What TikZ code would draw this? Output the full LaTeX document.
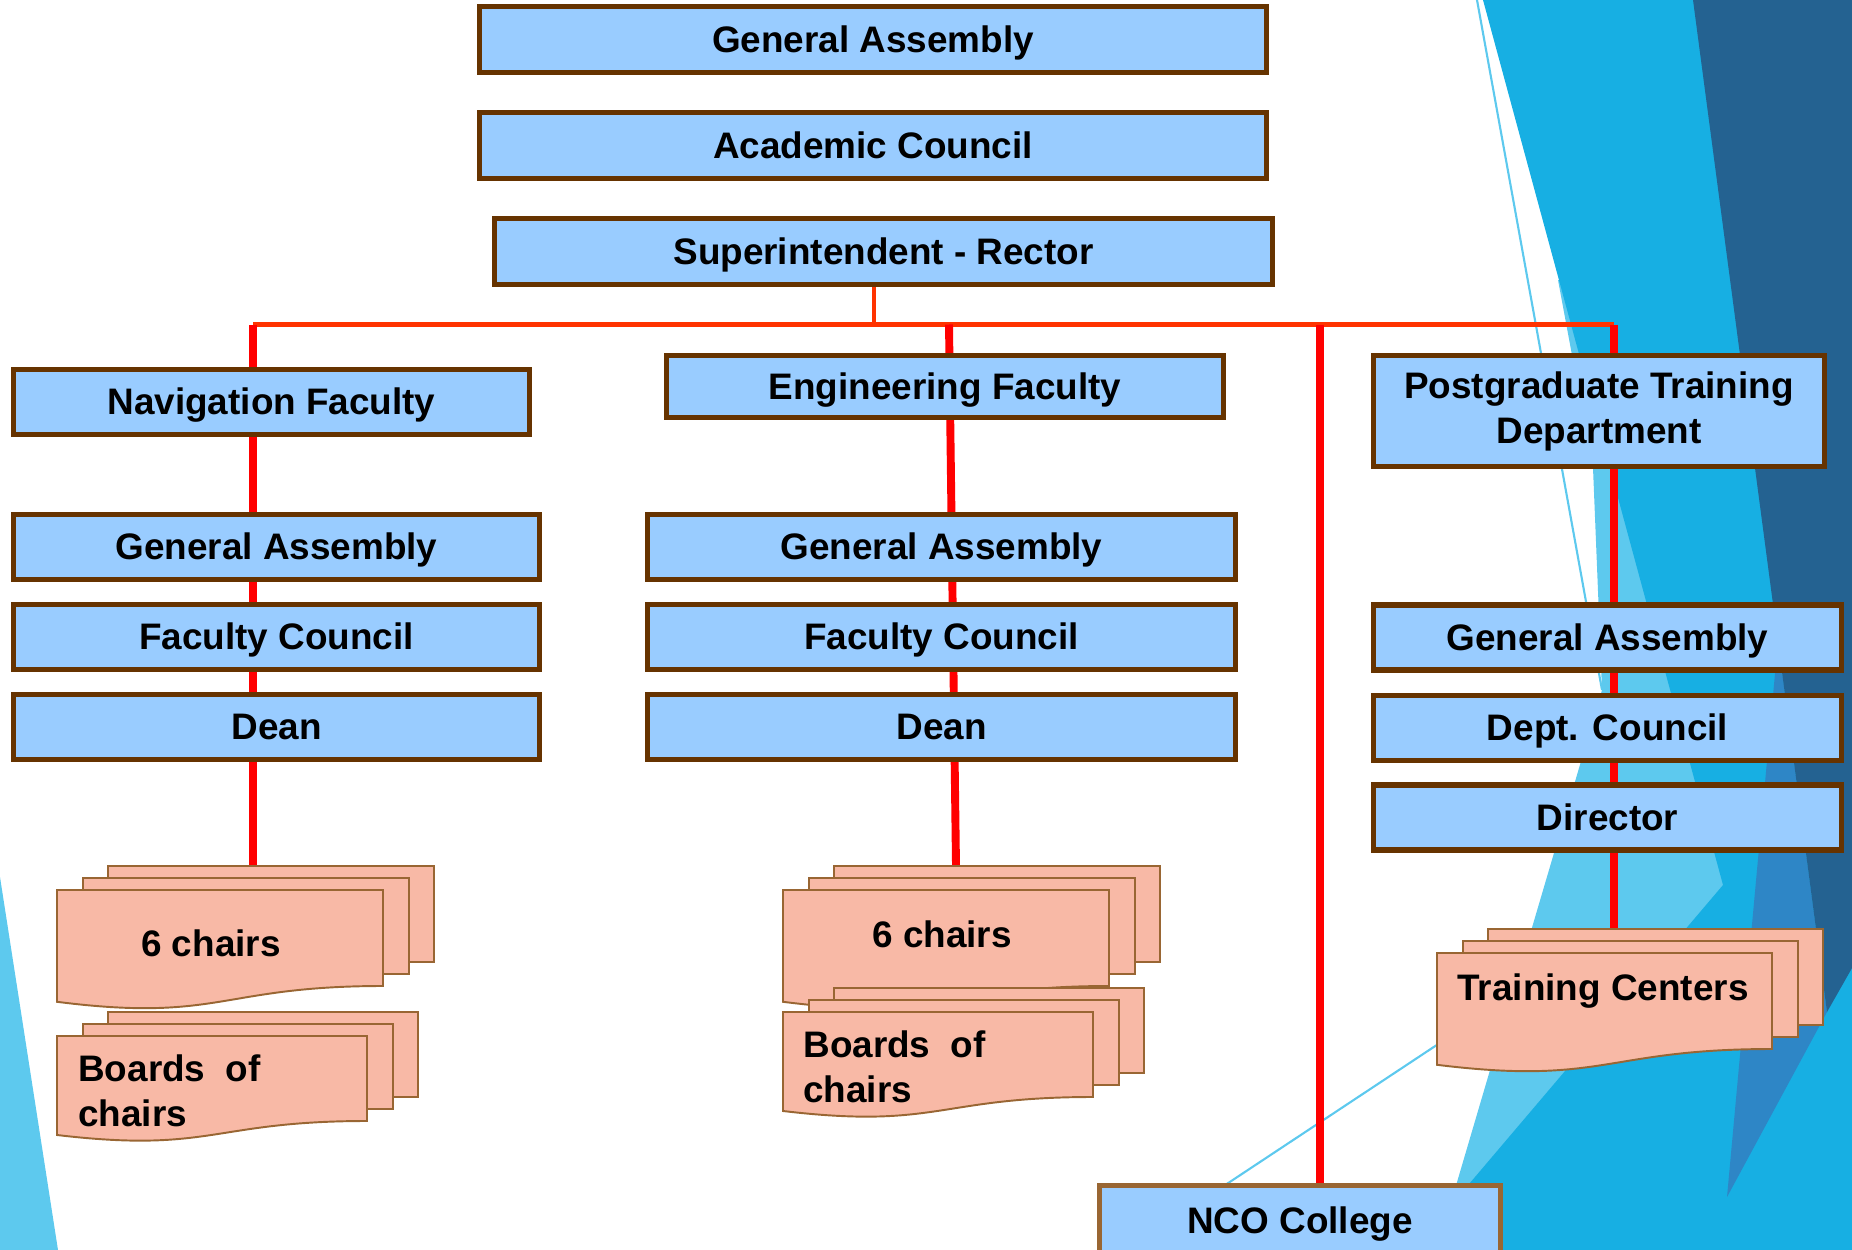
\documentclass[tikz,border=0pt]{standalone}
\usepackage{fontspec}
\setmainfont{Liberation Sans}
\usepackage{xcolor}
\usetikzlibrary{positioning}

\definecolor{boxblue}{HTML}{99CCFF}
\definecolor{boxbrown}{HTML}{663300}
\definecolor{docpink}{HTML}{F8B9A6}
\definecolor{docbrown}{HTML}{996633}
\definecolor{busred}{HTML}{FF3300}
\definecolor{facetlight}{HTML}{5DC9EE}
\definecolor{facetmid}{HTML}{17AFE3}
\definecolor{facetsteel}{HTML}{2E86C6}
\definecolor{facetdark}{HTML}{246291}

\pgfdeclarelayer{back}
\pgfdeclarelayer{wires}
\pgfsetlayers{back,wires,main}

% three stacked pages, #1,#2 = top left of the front page, #3 = width, #4 = height
\newcommand{\docstack}[4]{%
  \pgfmathsetmacro{\dH}{#4/0.802}
  \draw[docpage] (#1+51,#2-24) rectangle ++(#3,#4);
  \draw[docpage] (#1+26,#2-12) rectangle ++(#3,#4);
  \draw[docpage] (#1,#2) -- (#1+#3,#2) -- (#1+#3,#2+#4)
    .. controls (#1+0.5*#3,#2+#4) and (#1+0.5*#3,#2+1.1075*\dH) .. (#1,#2+0.934*\dH) -- cycle;
}

\begin{document}
\begin{tikzpicture}[x=0.02cm, y=-0.02cm]
        \tikzset{unitbase/.style = {draw=boxbrown, line width=3pt, fill=boxblue, align=center, inner sep=0pt, font=\bfseries\fontsize{21}{25.6}\selectfont}}
        \tikzset{unit/.style = {unitbase, text height=19pt, text depth=4.45pt}}
        \tikzset{doctext/.style = {inner sep=0pt, font=\bfseries\fontsize{21}{25.6}\selectfont}}
        \tikzset{docpage/.style = {draw=docbrown, fill=docpink, line width=1.1pt}}
        \tikzset{vwire/.style = {draw=red, line width=4.5pt}}
        \tikzset{buswire/.style = {draw=busred, line width=3pt}}
        \tikzset{stemwire/.style = {draw=busred, line width=2.2pt}}

        \useasboundingbox (0,0) rectangle (1852,1250);

        % background facets
        \begin{pgfonlayer}{back}
        \fill[facetlight] (0,877) -- (58,1250) -- (0,1250) -- cycle;
        \fill[facetlight] (1558,280) -- (1593,468) -- (1602,690) -- (1437,1250) -- (1852,1250) -- (1852,280) -- cycle;
        \fill[facetmid] (1483,0) -- (1852,0) -- (1852,1250) -- (1413,1250) -- (1723,885) -- cycle;
        \fill[facetsteel] (1778,641) -- (1827,1012) -- (1727,1197) -- cycle;
        \fill[facetdark] (1693,0) -- (1852,0) -- (1852,968) -- (1827,1012) -- cycle;
        \draw[facetlight, line width=1.2pt] (1477,0) -- (1602,690);
        \draw[facetlight, line width=1.2pt] (1127,1250) -- (1470,1023);
        \end{pgfonlayer}

        % top of the academy
        \node[unit, minimum width=15.74cm, minimum height=1.32cm] (ga) at (873,39.5) {General Assembly};
        \node[unit, minimum width=15.74cm, minimum height=1.32cm] (ac) at (873,145.5) {Academic Council};
        \node[unit, minimum width=15.56cm, minimum height=1.32cm] (rector) at (883.5,251.5) {Superintendent - Rector};

        % navigation faculty
        \node[unit, minimum width=10.32cm, minimum height=1.30cm] (navfac) at (271.5,402) {Navigation Faculty};
        \node[unit, minimum width=10.52cm, minimum height=1.30cm] (navga) at (276.5,547) {General Assembly};
        \node[unit, minimum width=10.52cm, minimum height=1.30cm] (navfc) at (276.5,637) {Faculty Council};
        \node[unit, minimum width=10.52cm, minimum height=1.30cm] (navdean) at (276.5,727) {Dean};

        % engineering faculty
        \node[unit, minimum width=11.14cm, minimum height=1.24cm] (engfac) at (945,386.5) {Engineering Faculty};
        \node[unit, minimum width=11.76cm, minimum height=1.30cm] (engga) at (941.5,547) {General Assembly};
        \node[unit, minimum width=11.76cm, minimum height=1.30cm] (engfc) at (941.5,637) {Faculty Council};
        \node[unit, minimum width=11.76cm, minimum height=1.30cm] (engdean) at (941.5,727) {Dean};

        % postgraduate department
        \node[unitbase, minimum width=9.02cm, minimum height=2.22cm] (pgdept) at (1599,411) {Postgraduate Training\\Department};
        \node[unit, minimum width=9.36cm, minimum height=1.30cm] (pgga) at (1607.5,637.5) {General Assembly};
        \node[unit, minimum width=9.36cm, minimum height=1.30cm] (pgdc) at (1607.5,728) {Dept. Council};
        \node[unit, minimum width=9.36cm, minimum height=1.30cm] (pgdir) at (1607.5,817.5) {Director};

        % nco college
        \node[unit, draw=docbrown, minimum width=8.02cm, minimum height=1.40cm] (nco) at (1300,1220.5) {NCO College};

        % chairs and centers
        \docstack{57}{890}{326}{96}
        \docstack{57}{1036}{310}{85}
        \docstack{783}{890}{326}{96}
        \docstack{783}{1012}{310}{85}
        \docstack{1437}{953}{335}{96}
        \node[doctext] (navchairs) at (211,943) {6 chairs};
        \node[doctext, anchor=north west, align=left] (navboards) at (78,1054) {Boards\ \ of\\chairs};
        \node[doctext] (engchairs) at (942,934) {6 chairs};
        \node[doctext, anchor=north west, align=left] (engboards) at (803,1030) {Boards\ \ of\\chairs};
        \node[doctext] (tcenters) at (1603,991) {Training Centers};

        % red lines
        \coordinate (busnav) at (253,324.5);
        \coordinate (busstem) at (874,324.5);
        \coordinate (buseng) at (949,324.5);
        \coordinate (busnco) at (1320,324.5);
        \coordinate (buspg) at (1614,324.5);
        \coordinate (navstack) at (253,866);
        \coordinate (engstack) at (956,866);
        \coordinate (tcstack) at (1614,930);
        \begin{pgfonlayer}{wires}
        \draw[stemwire] (rector.south -| busstem) -- (busstem);
        \draw[buswire] (busnav) -- (buspg);
        \draw[vwire] (busnav) -- (navstack);
        \draw[vwire] (buseng) -- (engstack);
        \draw[vwire] (busnco) -- (busnco |- nco.north);
        \draw[vwire] (buspg) -- (tcstack);
        \end{pgfonlayer}

\end{tikzpicture}
\end{document}
